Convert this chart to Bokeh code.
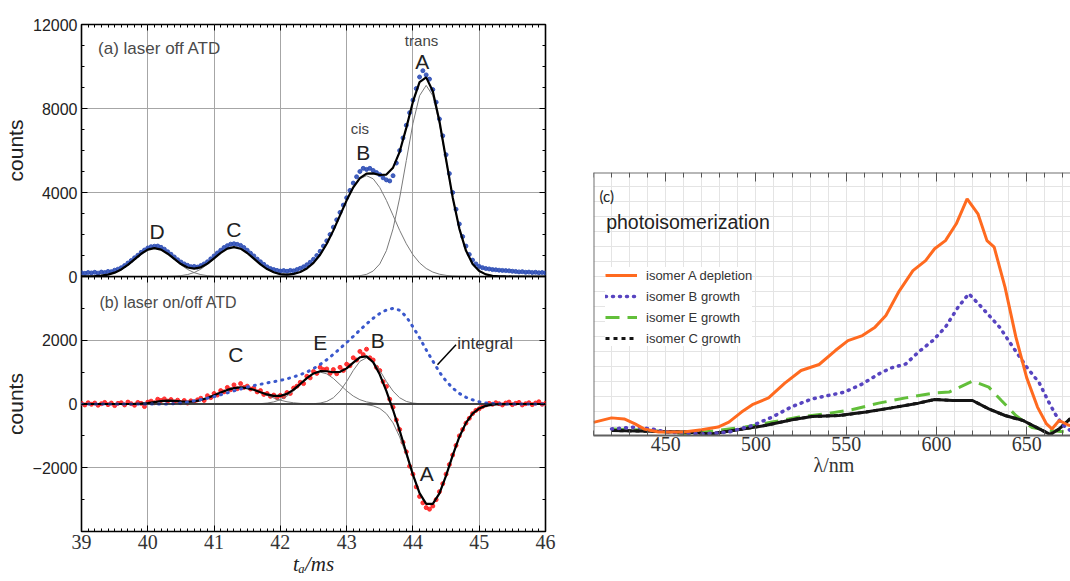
import numpy as np
from bokeh.plotting import figure
from bokeh.layouts import column, row
from bokeh.models import (Range1d, FixedTicker, LinearAxis, Label, Span, Arrow,
                          Legend, LegendItem, Spacer, CustomJSTickFormatter)
from bokeh.embed import file_html
from bokeh.resources import INLINE

SANS = "Liberation Sans"
SERIF = "Liberation Serif"

# ---------------- data: panels (a) and (b) ----------------
t_fit = [round(39.0 + 0.1 * i, 2) for i in range(71)]      # fit / component sampling (ms)
t_data = [round(39.0 + 0.05 * i, 2) for i in range(141)]   # measured ATD sampling (ms)

# (a) laser off ATD: measured counts
a_data = [180, 150, 190, 170, 200, 160, 210, 190, 240, 230,
          300, 350, 420, 520, 640, 760, 890, 1010, 1150, 1260,
          1360, 1420, 1440, 1450, 1390, 1300, 1180, 1060, 930, 800,
          690, 600, 530, 470, 480, 450, 520, 600, 700, 840,
          980, 1120, 1250, 1380, 1470, 1540, 1560, 1530, 1480, 1380,
          1250, 1110, 980, 830, 700, 580, 460, 380, 330, 290,
          260, 280, 250, 290, 270, 330, 390, 460, 560, 680,
          820, 1000, 1200, 1450, 1700, 2000, 2350, 2700, 3050, 3400,
          3750, 4100, 4450, 4750, 5000, 5150, 5100, 5150, 5050, 4950,
          4850, 4700, 4600, 4550, 4800, 5400, 6000, 6600, 7200, 7800,
          8400, 8950, 9500, 9800, 9600, 9400, 8900, 8300, 7500, 6700,
          5800, 4900, 4000, 3200, 2500, 1900, 1450, 1050, 780, 600,
          480, 420, 380, 360, 330, 320, 300, 290, 280, 270,
          250, 240, 220, 230, 200, 210, 190, 200, 180, 190,
          170]

# (a) fitted components D, C, B (cis), A (trans) and total fit
a_comp_D = [2, 5, 15, 39, 89, 183, 337, 555, 819, 1081,
            1277, 1350, 1277, 1081, 819, 555, 337, 183, 89, 39,
            15, 5, 2, 0, 0, 0, 0, 0, 0, 0,
            0, 0, 0, 0, 0, 0, 0, 0, 0, 0,
            0, 0, 0, 0, 0, 0, 0, 0, 0, 0,
            0, 0, 0, 0, 0, 0, 0, 0, 0, 0,
            0, 0, 0, 0, 0, 0, 0, 0, 0, 0,
            0]
a_comp_C = [0, 0, 0, 0, 0, 0, 0, 0, 0, 0,
            0, 0, 2, 5, 16, 40, 92, 189, 349, 576,
            849, 1121, 1324, 1400, 1324, 1121, 849, 576, 349, 189,
            92, 40, 16, 5, 2, 0, 0, 0, 0, 0,
            0, 0, 0, 0, 0, 0, 0, 0, 0, 0,
            0, 0, 0, 0, 0, 0, 0, 0, 0, 0,
            0, 0, 0, 0, 0, 0, 0, 0, 0, 0,
            0]
a_comp_B = [0, 0, 0, 0, 0, 0, 0, 0, 0, 0,
            0, 0, 0, 0, 0, 0, 0, 0, 0, 0,
            0, 0, 0, 0, 0, 0, 0, 2, 4, 11,
            24, 53, 109, 211, 382, 649, 1038, 1559, 2197, 2911,
            3623, 4236, 4652, 4800, 4652, 4236, 3623, 2911, 2197, 1559,
            1038, 649, 382, 211, 109, 53, 24, 11, 4, 2,
            0, 0, 0, 0, 0, 0, 0, 0, 0, 0,
            0]
a_comp_A = [0, 0, 0, 0, 0, 0, 0, 0, 0, 0,
            0, 0, 0, 0, 0, 0, 0, 0, 0, 0,
            0, 0, 0, 0, 0, 0, 0, 0, 0, 0,
            0, 0, 0, 0, 0, 0, 0, 0, 0, 0,
            3, 11, 35, 101, 260, 598, 1231, 2270, 3741, 5519,
            7286, 8609, 9100, 8609, 7286, 5519, 3741, 2270, 1231, 598,
            260, 101, 35, 11, 3, 0, 0, 0, 0, 0,
            0]
a_fit = [2, 5, 15, 39, 89, 183, 337, 555, 819, 1081,
         1277, 1350, 1279, 1086, 835, 595, 429, 372, 438, 615,
         864, 1126, 1326, 1400, 1324, 1121, 849, 578, 353, 200,
         116, 93, 125, 216, 384, 649, 1038, 1559, 2197, 2911,
         3626, 4247, 4687, 4901, 4912, 4834, 4854, 5181, 5938, 7078,
         8324, 9258, 9482, 8820, 7395, 5572, 3765, 2281, 1235, 600,
         260, 101, 35, 11, 3, 0, 0, 0, 0, 0,
         0]

# (b) laser on/off ATD: measured difference counts
b_data = [20, -30, 40, -10, 30, -40, 10, 50, -20, 30,
          -50, 20, 40, -30, 60, 10, -40, 50, 20, -80,
          60, 90, 40, 150, 110, 160, 90, 140, 60, 120,
          40, 110, 30, 100, 60, 130, 180, 110, 260, 200,
          330, 280, 420, 380, 520, 450, 600, 480, 640, 520,
          560, 470, 500, 380, 420, 300, 330, 240, 280, 200,
          270, 230, 360, 330, 500, 560, 680, 640, 870, 820,
          1020, 960, 1150, 1080, 1100, 960, 1080, 950, 1150, 1050,
          1250, 1200, 1450, 1380, 1650, 1550, 1720, 1450, 1380, 1150,
          1050, 700, 550, 150, -100, -500, -800, -1200, -1500, -1950,
          -2200, -2600, -2900, -3100, -3250, -3300, -3200, -3000, -2750, -2500,
          -2200, -1900, -1600, -1300, -1000, -800, -600, -450, -300, -200,
          -150, -80, -30, 20, -10, 40, 10, -30, 30, 60,
          -20, 20, 50, -30, 10, 40, -20, 30, 70, -10,
          20]

b_comp_D = [0, 0, 0, 0, 0, 0, 0, 0, 4, 14,
            32, 61, 88, 100, 88, 61, 32, 14, 4, 0,
            0, 0, 0, 0, 0, 0, 0, 0, 0, 0,
            0, 0, 0, 0, 0, 0, 0, 0, 0, 0,
            0, 0, 0, 0, 0, 0, 0, 0, 0, 0,
            0, 0, 0, 0, 0, 0, 0, 0, 0, 0,
            0, 0, 0, 0, 0, 0, 0, 0, 0, 0,
            0]
b_comp_C = [0, 0, 0, 0, 0, 0, 0, 0, 0, 0,
            0, 0, 0, 4, 9, 19, 38, 70, 120, 188,
            271, 360, 442, 499, 520, 499, 442, 360, 271, 188,
            120, 70, 38, 19, 9, 4, 0, 0, 0, 0,
            0, 0, 0, 0, 0, 0, 0, 0, 0, 0,
            0, 0, 0, 0, 0, 0, 0, 0, 0, 0,
            0, 0, 0, 0, 0, 0, 0, 0, 0, 0,
            0]
b_comp_E = [0, 0, 0, 0, 0, 0, 0, 0, 0, 0,
            0, 0, 0, 0, 0, 0, 0, 0, 0, 0,
            0, 0, 0, 0, 0, 0, 4, 11, 29, 66,
            135, 249, 411, 607, 801, 946, 1000, 946, 801, 607,
            411, 249, 135, 66, 29, 11, 4, 0, 0, 0,
            0, 0, 0, 0, 0, 0, 0, 0, 0, 0,
            0, 0, 0, 0, 0, 0, 0, 0, 0, 0,
            0]
b_comp_B = [0, 0, 0, 0, 0, 0, 0, 0, 0, 0,
            0, 0, 0, 0, 0, 0, 0, 0, 0, 0,
            0, 0, 0, 0, 0, 0, 0, 0, 0, 0,
            0, 0, 0, 0, 2, 9, 29, 81, 196, 403,
            706, 1053, 1338, 1450, 1338, 1053, 706, 403, 196, 81,
            29, 9, 2, 0, 0, 0, 0, 0, 0, 0,
            0, 0, 0, 0, 0, 0, 0, 0, 0, 0,
            0]
b_comp_A = [0, 0, 0, 0, 0, 0, 0, 0, 0, 0,
            0, 0, 0, 0, 0, 0, 0, 0, 0, 0,
            0, 0, 0, 0, 0, 0, 0, 0, 0, 0,
            0, 0, 0, 0, 0, 0, 0, 0, 0, 0,
            0, -2, -7, -21, -58, -140, -304, -592, -1033, -1610,
            -2247, -2806, -3136, -3136, -2806, -2247, -1610, -1033, -592, -304,
            -140, -58, -21, -7, -2, 0, 0, 0, 0, 0,
            0]
b_fit = [0, 0, 0, 0, 0, 0, 0, 0, 4, 14,
         32, 61, 88, 104, 97, 80, 70, 84, 124, 188,
         271, 360, 442, 499, 520, 499, 446, 371, 300, 254,
         255, 319, 449, 626, 812, 959, 1029, 1027, 997, 1010,
         1117, 1300, 1466, 1495, 1309, 924, 406, -189, -837, -1529,
         -2218, -2797, -3134, -3136, -2806, -2247, -1610, -1033, -592, -304,
         -140, -58, -21, -7, -2, 0, 0, 0, 0, 0,
         0]
b_integral = [0, 0, 0, 0, 0, 0, 0, 0, 0, 0,
              0, 0, 0, 0, 10, 30, 60, 100, 140, 180,
              230, 290, 350, 410, 470, 530, 580, 620, 660, 700,
              740, 790, 850, 920, 1000, 1110, 1240, 1390, 1560, 1740,
              1930, 2120, 2320, 2510, 2690, 2840, 2950, 3000, 2940, 2740,
              2420, 2080, 1700, 1350, 1000, 720, 500, 330, 210, 130,
              70, 35, 15, 5, 0, 0, 0, 0, 0, 0,
              0]

# tick values
t_major = [39, 40, 41, 42, 43, 44, 45, 46]
t_minor = [round(39.0 + 0.1 * i, 2) for i in range(71)]
a_major = [0, 4000, 8000, 12000]
a_minor = [0, 1000, 2000, 3000, 4000, 5000, 6000, 7000, 8000, 9000, 10000, 11000, 12000]
b_major = [-2000, 0, 2000]
b_minor = [-4000, -3000, -2000, -1000, 0, 1000, 2000, 3000, 4000]

# ---------------- data: panel (c) photoisomerization spectra (a.u.) ----------------
orange_wl = [410, 420, 427, 433, 438, 446, 460, 470, 479, 485, 492, 498, 507, 516, 525,
             535, 544, 551, 559, 566, 572, 579, 587, 594, 599, 605, 611, 617, 623, 628,
             632, 638, 644, 650, 656, 661, 664, 668, 673, 677]
orange = [5.0, 6.7, 6.3, 4.4, 2.5, 1.3, 1.3, 2.2, 3.2, 5.1, 8.9, 11.7, 14.3, 19.9, 24.7,
          27.0, 32.3, 36.1, 38.0, 41.2, 45.6, 54.5, 62.7, 66.5, 71.0, 74.1, 80.5, 90.0, 84.3, 74.1,
          71.6, 56.4, 37.5, 22.0, 10.8, 4.4, 2.5, 5.7, 4.0, 3.2]
purple_wl = [420, 433, 442, 451, 470, 485, 498, 509, 520, 531, 540, 549, 559, 568, 575, 583,
             590, 598, 605, 612, 618, 625, 635, 643, 650, 657, 662, 666, 670, 674, 677]
purple = [2.5, 3.2, 2.5, 1.3, 0.6, 1.3, 3.8, 7.0, 11.0, 13.9, 15.2, 16.5, 19.6, 23.4, 25.7, 27.2,
          31.7, 36.1, 41.2, 48.8, 53.9, 48.8, 41.2, 33.0, 26.0, 20.0, 13.0, 8.0, 4.0, 2.0, 2.0]
green_wl = [420, 442, 461, 479, 494, 509, 524, 538, 553, 568, 583, 598, 607, 620, 629, 636,
            644, 653, 662, 672, 677]
green = [2.5, 1.9, 0.6, 1.9, 3.2, 5.1, 7.0, 8.2, 9.8, 12.3, 14.3, 16.1, 16.5, 20.7, 18.4, 13.3,
         7.6, 3.0, 1.9, 1.3, 1.0]
black_wl = [420, 442, 461, 475, 490, 505, 520, 531, 546, 561, 575, 590, 599, 609, 620, 629,
            638, 648, 657, 663, 668, 674, 677]
black = [1.9, 1.6, 1.3, 0.6, 2.2, 3.8, 6.0, 7.2, 7.6, 8.9, 10.5, 12.3, 13.7, 13.3, 13.3, 10.1,
         7.6, 5.7, 2.5, 0.4, 2.5, 6.3, 5.1]
wl_major = [450, 500, 550, 600, 650]
wl_minor = list(range(410, 680, 10))
series_names = ["isomer A depletion", "isomer B growth", "isomer E growth", "isomer C growth"]

BLANK = CustomJSTickFormatter(code="return '';")


# ---------------- helpers ----------------
def inward(ax, major=6, minor=3, color="black"):
    ax.major_tick_in = major
    ax.major_tick_out = 0
    ax.minor_tick_in = minor
    ax.minor_tick_out = 0
    ax.major_tick_line_color = color
    ax.minor_tick_line_color = color
    ax.major_tick_line_width = 1
    ax.minor_tick_line_width = 1


def no_labels(ax):
    ax.formatter = BLANK
    ax.major_label_standoff = 0


def add_frame_axes(p, xt, yt, ytop, xright):
    top = LinearAxis(fixed_location=ytop, ticker=xt, axis_line_color=None)
    inward(top)
    no_labels(top)
    p.add_layout(top, "above")
    right = LinearAxis(fixed_location=xright, ticker=yt, axis_line_color=None)
    inward(right)
    no_labels(right)
    p.add_layout(right, "right")


def style_left(p, yt, overrides=None):
    ax = p.left[0]
    ax.ticker = yt
    inward(ax)
    ax.axis_line_color = None
    ax.major_label_text_font = SANS
    ax.major_label_text_font_size = "16px"
    ax.major_label_text_color = "#222222"
    ax.major_label_standoff = 4
    ax.axis_label = "counts"
    ax.axis_label_text_font = SANS
    ax.axis_label_text_font_size = "21px"
    ax.axis_label_text_font_style = "normal"
    ax.axis_label_text_color = "#222222"
    ax.axis_label_standoff = 3
    if overrides:
        ax.major_label_overrides = overrides


def txt(p, x, y, s, size, color="#222222", align="center", font=SANS):
    p.add_layout(Label(x=x, y=y, text=s, text_font=font, text_font_size=size,
                       text_color=color, text_align=align, text_baseline="middle"))


GRID = "#a6a6a6"
COMP = "#7a7a7a"
OVERLAP = 10   # pa's canvas extends below its frame so its "0" label is not cut; pb overlaps it
xt = FixedTicker(ticks=t_major, minor_ticks=t_minor)

# ---------------- panel (a) ----------------
pa = figure(frame_width=464, frame_height=252, x_range=Range1d(39, 46), y_range=Range1d(0, 12000),
            min_border_left=77, min_border_right=12, min_border_top=24, min_border_bottom=OVERLAP,
            toolbar_location=None, output_backend="svg", title=None)
pa.below[0].visible = False
pa.outline_line_color = "black"
pa.outline_line_width = 1.6
pa.xgrid.ticker = FixedTicker(ticks=[40, 41, 42, 43, 44, 45])
pa.ygrid.ticker = FixedTicker(ticks=[4000, 8000])
pa.grid.grid_line_color = GRID
pa.grid.grid_line_width = 1
yta = FixedTicker(ticks=a_major, minor_ticks=a_minor)
style_left(pa, yta)
add_frame_axes(pa, xt, yta, 12000, 46)

pa.scatter(t_data, a_data, size=4, color="#2f4fb6", alpha=0.9, marker="circle")
for comp in (a_comp_D, a_comp_C, a_comp_B, a_comp_A):
    pa.line(t_fit, comp, line_color=COMP, line_width=1)
pa.line(t_fit, a_fit, line_color="black", line_width=2.2)

txt(pa, 39.25, 10870, "(a) laser off ATD", "17px", color="#4a4a4a", align="left")
txt(pa, 44.13, 11240, "trans", "15px", color="#444444")
txt(pa, 44.14, 10240, "A", "21px")
txt(pa, 43.20, 7060, "cis", "15px", color="#444444")
txt(pa, 43.25, 5905, "B", "21px")
txt(pa, 40.14, 2140, "D", "21px")
txt(pa, 41.30, 2240, "C", "21px")

# ---------------- panel (b) ----------------
pb = figure(frame_width=464, frame_height=255, x_range=Range1d(39, 46), y_range=Range1d(-4000, 4000),
            min_border_left=77, min_border_right=12, min_border_top=0, min_border_bottom=46,
            toolbar_location=None, output_backend="svg", title=None,
            margin=(-OVERLAP, 0, 0, 0))
pb.border_fill_alpha = 0.0
pb.background_fill_alpha = 0.0
pb.outline_line_color = "black"
pb.outline_line_width = 1.6
pb.xgrid.ticker = FixedTicker(ticks=[40, 41, 42, 43, 44, 45])
pb.ygrid.ticker = FixedTicker(ticks=[-2000, 2000])
pb.grid.grid_line_color = GRID
pb.grid.grid_line_width = 1
bx = pb.below[0]
bx.ticker = xt
inward(bx)
bx.axis_line_color = None
bx.major_label_text_font = SERIF
bx.major_label_text_font_size = "20px"
bx.major_label_text_color = "#333333"
bx.major_label_standoff = 3
bx.axis_label = "t\u2090/ms"
bx.axis_label_text_font = SERIF
bx.axis_label_text_font_size = "21px"
bx.axis_label_text_font_style = "italic"
bx.axis_label_text_color = "#222222"
bx.axis_label_standoff = 0
ytb = FixedTicker(ticks=b_major, minor_ticks=b_minor)
style_left(pb, ytb, overrides={-2000: "\u22122000"})
add_frame_axes(pb, xt, ytb, 4000, 46)

pb.add_layout(Span(location=0, dimension="width", line_color="black", line_width=1.2))
pb.scatter(t_data, b_data, size=4, color="#ff2222", alpha=0.9, marker="circle")
for comp in (b_comp_D, b_comp_C, b_comp_E, b_comp_B, b_comp_A):
    pb.line(t_fit, comp, line_color=COMP, line_width=1)
pb.line(t_fit, b_fit, line_color="black", line_width=2.2)
pb.line(t_fit, b_integral, line_color="#3a58cc", line_width=3, line_dash="1 6", line_cap="round")
pb.add_layout(Arrow(end=None, x_start=44.65, y_start=1860, x_end=44.37, y_end=1230,
                    line_color="black", line_width=1.5))

txt(pb, 39.27, 3190, "(b) laser on/off ATD", "16px", color="#4a4a4a", align="left")
txt(pb, 41.33, 1550, "C", "21px")
txt(pb, 42.60, 1940, "E", "21px")
txt(pb, 43.47, 1990, "B", "21px")
txt(pb, 44.21, -2190, "A", "21px")
txt(pb, 44.67, 1890, "integral", "17px", color="#333333", align="left")

# ---------------- panel (c) ----------------
pc = figure(frame_width=481, frame_height=263, x_range=Range1d(410, 676.5), y_range=Range1d(0, 100),
            min_border_left=36, min_border_right=0, min_border_top=10, min_border_bottom=60,
            toolbar_location=None, output_backend="svg", title=None)
pc.outline_line_color = None
pc.xgrid.ticker = FixedTicker(ticks=wl_minor)
pc.ygrid.ticker = FixedTicker(ticks=[3.54 + 5.703 * k for k in range(17)])
pc.grid.grid_line_color = "#e4e4e4"
pc.grid.grid_line_width = 1

wt = FixedTicker(ticks=wl_major, minor_ticks=wl_minor)
cx = pc.below[0]
cx.ticker = wt
inward(cx, major=9, minor=5, color="#555555")
cx.axis_line_color = "#606060"
cx.axis_line_width = 2
cx.major_label_text_font = SERIF
cx.major_label_text_font_size = "20px"
cx.major_label_text_color = "#333333"
cx.major_label_standoff = 1
cx.axis_label = "\u03bb/nm"
cx.axis_label_text_font = SERIF
cx.axis_label_text_font_size = "20px"
cx.axis_label_text_font_style = "normal"
cx.axis_label_text_color = "#333333"
cx.axis_label_standoff = 0

cy = pc.left[0]
cy.fixed_location = 410
cy.major_tick_in = 0
cy.major_tick_out = 0
cy.minor_tick_in = 0
cy.minor_tick_out = 0
no_labels(cy)
cy.axis_line_color = "#707070"
cy.axis_line_width = 2

ctop = LinearAxis(fixed_location=100, ticker=wt, axis_line_color="#707070", axis_line_width=2)
inward(ctop, major=9, minor=5, color="#555555")
no_labels(ctop)
pc.add_layout(ctop, "above")

r_gr = pc.line(green_wl, green, line_color="#62bf3a", line_width=3, line_dash="14 8")
r_bk_leg = pc.line(black_wl, black, line_color="#141414", line_width=3, line_dash="4 4")
r_bk = pc.line(black_wl, black, line_color="#141414", line_width=3)
r_pu = pc.line(purple_wl, purple, line_color="#5744c0", line_width=3.5, line_dash="1 6", line_cap="round")
r_or = pc.line(orange_wl, orange, line_color="#ff6a1f", line_width=3)

legend = Legend(items=[LegendItem(label=series_names[0], renderers=[r_or]),
                       LegendItem(label=series_names[1], renderers=[r_pu]),
                       LegendItem(label=series_names[2], renderers=[r_gr]),
                       LegendItem(label=series_names[3], renderers=[r_bk_leg])],
                location=(12, 89), label_text_font=SANS, label_text_font_size="13px",
                label_text_color="#333333", glyph_width=32, glyph_height=16, label_height=16,
                spacing=5, padding=6, label_standoff=9, margin=0,
                background_fill_color="white", background_fill_alpha=1.0, border_line_color=None)
pc.add_layout(legend)

txt(pc, 413.3, 90.9, "(c)", "15px", color="#222222", align="left", font="Lato")
txt(pc, 417.0, 81.0, "photoisomerization", "19.5px", color="#222222", align="left")

layout = row(column(pa, pb), column(Spacer(width=517, height=162), pc))
open("out.html", "w").write(file_html(layout, INLINE))
